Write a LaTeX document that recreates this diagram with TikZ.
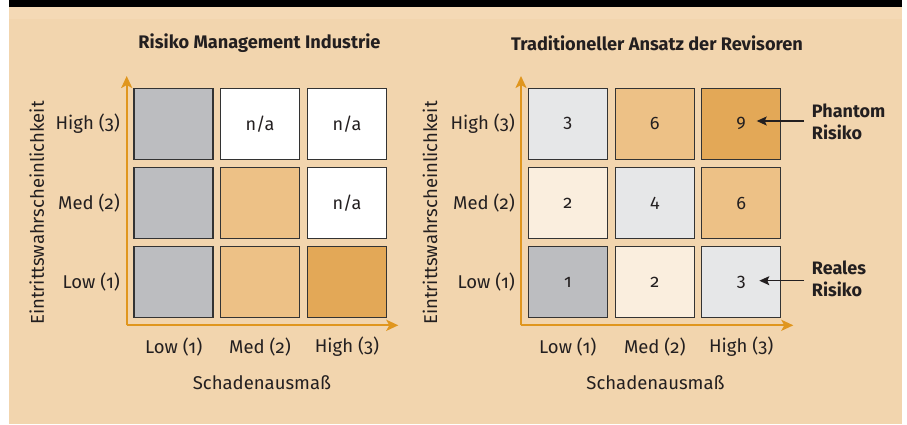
\documentclass[tikz,border=0pt]{standalone}
\usepackage{fontspec}
\setmainfont{Fira Sans}[Numbers=OldStyle]
\usetikzlibrary{arrows.meta}
\definecolor{bgbeige}{HTML}{F2D5AE}
\definecolor{bgband}{HTML}{F4D9B5}
\definecolor{axisor}{HTML}{E0961E}
\definecolor{cgray}{HTML}{BCBDC0}
\definecolor{clgray}{HTML}{E6E7E8}
\definecolor{cmed}{HTML}{EDC186}
\definecolor{chigh}{HTML}{E3A857}
\definecolor{ccream}{HTML}{FAEEDE}
\definecolor{txt}{HTML}{231F20}
\definecolor{bord}{HTML}{333333}
\tikzset{
  cell/.style={draw=bord, line width=1.5pt, minimum width=79pt, minimum height=71pt, inner sep=0pt, font=\fontsize{18}{21}\selectfont, text=txt},
  axisline/.style={draw=axisor, line width=2.3pt, -{Stealth[length=12pt,width=11pt,inset=3pt]}},
  lbl/.style={font=\fontsize{18.5}{21}\selectfont, text=txt, inner sep=0pt},
  ttl/.style={font=\fontsize{18.2}{21}\selectfont\bfseries, text=txt, inner sep=0pt},
  note/.style={font=\fontsize{18}{22.6}\selectfont\bfseries, text=txt, inner sep=0pt, align=left},
  ptr/.style={draw=txt, line width=1.2pt, -{Stealth[length=10pt,width=9pt,inset=2pt]}}
}
\begin{document}
\begin{tikzpicture}[x=1pt,y=-1pt]
\useasboundingbox (0,0) rectangle (907,424);
\fill[white] (0,0) rectangle (907,424);
\fill[bgbeige] (9,0) rectangle (902,424);
\fill[bgband] (9,7) rectangle (902,19);
\fill[black] (9,0) rectangle (902,7);

% titles
\node[ttl] (t1) at (259.5,43) {Risiko Management Industrie};
\node[ttl] (t2) at (657,43) {Traditioneller Ansatz der Revisoren};

% ---------- left grid ----------
\coordinate (oL) at (126.7,325.3);
\coordinate (yL) at (126.7,76);
\coordinate (xL) at (398.3,325.3);
\draw[axisline] (oL) -- (yL);
\draw[axisline] (oL) -- (xL);

\node[cell, fill=cgray] (L13) at (173.7,123.8) {};
\node[cell, fill=white] (L23) at (260,123.8) {n/a};
\node[cell, fill=white] (L33) at (347,123.8) {n/a};
\node[cell, fill=cgray] (L12) at (173.7,203) {};
\node[cell, fill=cmed] (L22) at (260,203) {};
\node[cell, fill=white] (L32) at (347,203) {n/a};
\node[cell, fill=cgray] (L11) at (173.7,282) {};
\node[cell, fill=cmed] (L21) at (260,282) {};
\node[cell, fill=chigh] (L31) at (347,282) {};

\node[lbl, anchor=east] (Ly3) at (120,123.8) {High (3)};
\node[lbl, anchor=east] (Ly2) at (120,203) {Med (2)};
\node[lbl, anchor=east] (Ly1) at (120,282) {Low (1)};
\node[lbl] (Lx1) at (173.7,346.7) {Low (1)};
\node[lbl] (Lx2) at (260,346.7) {Med (2)};
\node[lbl] (Lx3) at (347,346.7) {High (3)};
\node[lbl, rotate=90] (Lya) at (36.7,213) {Eintrittswahrscheinlichkeit};
\node[lbl] (Lxa) at (262,383) {Schadenausmaß};

% ---------- right grid ----------
\coordinate (oR) at (521,325.3);
\coordinate (yR) at (521,76);
\coordinate (xR) at (793.3,325.3);
\draw[axisline] (oR) -- (yR);
\draw[axisline] (oR) -- (xR);

\node[cell, fill=clgray] (R13) at (567.8,123.8) {3};
\node[cell, fill=cmed] (R23) at (654.8,123.8) {6};
\node[cell, fill=chigh] (R33) at (741.2,123.8) {9};
\node[cell, fill=ccream] (R12) at (567.8,203) {2};
\node[cell, fill=clgray] (R22) at (654.8,203) {4};
\node[cell, fill=cmed] (R32) at (741.2,203) {6};
\node[cell, fill=cgray] (R11) at (567.8,282) {1};
\node[cell, fill=ccream] (R21) at (654.8,282) {2};
\node[cell, fill=clgray] (R31) at (741.2,282) {3};

\node[lbl, anchor=east] (Ry3) at (515,123.8) {High (3)};
\node[lbl, anchor=east] (Ry2) at (515,203) {Med (2)};
\node[lbl, anchor=east] (Ry1) at (515,282) {Low (1)};
\node[lbl] (Rx1) at (567.8,346.7) {Low (1)};
\node[lbl] (Rx2) at (654.8,346.7) {Med (2)};
\node[lbl] (Rx3) at (741.2,346.7) {High (3)};
\node[lbl, rotate=90] (Rya) at (430,213) {Eintrittswahrscheinlichkeit};
\node[lbl] (Rxa) at (655.5,383) {Schadenausmaß};

% notes
\node[note, anchor=west] (ph) at (811.7,122) {Phantom\\Risiko};
\node[note, anchor=west] (re) at (811.7,278.7) {Reales\\Risiko};
\coordinate (phs) at (804,121);
\coordinate (phe) at (756.7,121);
\coordinate (res) at (804,280.7);
\coordinate (ree) at (759.3,280.7);
\draw[ptr] (phs) -- (phe);
\draw[ptr] (res) -- (ree);
\end{tikzpicture}
\end{document}
